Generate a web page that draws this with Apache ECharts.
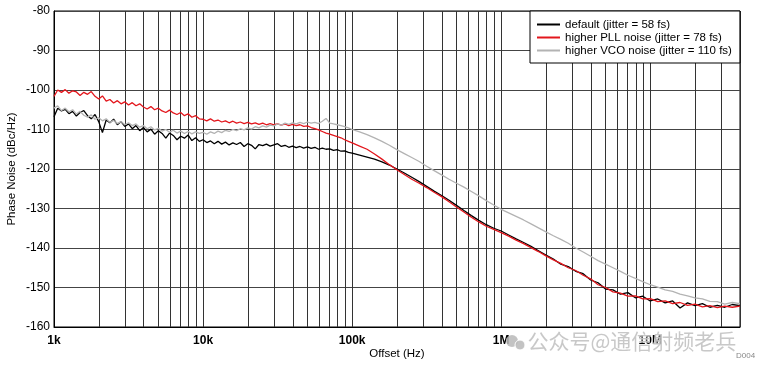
<!DOCTYPE html>
<html>
<head>
<meta charset="utf-8">
<script src="https://cdn.jsdelivr.net/npm/echarts@6/dist/echarts.min.js"></script>
<style>
html,body{margin:0;padding:0;background:#fff;}
#chart{width:758px;height:369px;}
</style>
</head>
<body>
<div id="chart"></div>
<script>
// Offset frequencies (Hz)
var freqHz = [
1000,1059,1122,1189,1259,1334,1413,1496,1585,1679,1778,1884,1995,2113,2239,2371,2512,2661,2818,2985,3162,3350,3548,3758,3981,4217,4467,4732,5012,5309,5623,5957,6310,6683,7079,7499,7943,8414,8913,9441,
10000,10590,11220,11890,12590,13340,14130,14960,15850,16790,17780,18840,19950,21130,22390,23710,25120,26610,28180,29850,31620,33500,35480,37580,39810,42170,44670,47320,50120,53090,56230,59570,63100,66830,70790,74990,79430,84140,89130,94410,
100000,112200,125900,141300,158500,177800,199500,223900,251200,281800,316200,354800,398100,446700,501200,562300,631000,707900,794300,891300,
1000000,1122000,1259000,1413000,1585000,1778000,1995000,2239000,2512000,2818000,3162000,3548000,3981000,4467000,5012000,5623000,6310000,7079000,7943000,8913000,
10000000,11220000,12590000,14130000,15850000,17780000,19950000,22390000,25120000,28180000,31620000,35480000,40000000
];

// default (jitter = 58 fs)
var defaultNoise = [
-106.8,-104.6,-105.3,-104.9,-106.0,-105.4,-106.6,-105.7,-105.2,-106.5,-107.3,-106.2,-108.0,-110.8,-107.6,-108.3,-107.4,-108.8,-108.0,-109.2,-108.6,-109.8,-109.0,-110.3,-109.5,-110.6,-109.9,-111.2,-110.3,-111.0,-112.2,-110.9,-111.5,-112.6,-111.7,-112.2,-111.4,-112.8,-112.1,-113.0,
-112.6,-113.3,-112.9,-113.6,-113.0,-113.7,-113.2,-113.9,-113.4,-113.8,-113.3,-114.3,-113.6,-114.0,-114.9,-113.8,-114.1,-113.7,-114.2,-113.9,-113.6,-114.3,-114.0,-114.5,-114.2,-114.6,-114.3,-114.7,-114.4,-114.8,-114.5,-115.0,-114.7,-115.0,-114.9,-115.3,-115.1,-115.5,-115.4,-115.8,
-116.0,-116.5,-117.0,-117.5,-118.2,-119.0,-120.0,-121.0,-122.1,-123.2,-124.4,-125.6,-126.7,-127.9,-129.2,-130.5,-131.8,-133.0,-134.1,-135.0,
-135.7,-136.7,-137.7,-138.6,-139.6,-140.7,-141.8,-142.8,-144.1,-144.7,-145.9,-146.5,-148.1,-148.8,-150.4,-150.6,-151.7,-151.3,-152.6,-152.2,
-153.4,-152.9,-153.9,-153.4,-155.2,-153.9,-154.6,-154.1,-155.0,-154.5,-155.0,-154.3,-154.6
];

// higher PLL noise (jitter = 78 fs)
var pllNoise = [
-101.6,-100.0,-100.6,-99.9,-100.8,-100.2,-100.5,-101.4,-100.6,-101.1,-100.4,-101.6,-102.3,-101.5,-102.8,-102.4,-103.3,-102.7,-103.5,-103.0,-103.8,-103.2,-104.0,-103.5,-104.3,-104.8,-104.2,-105.0,-104.6,-105.3,-105.7,-105.1,-105.8,-106.2,-105.7,-106.5,-106.0,-106.9,-106.5,-107.3,
-107.4,-107.8,-107.3,-107.9,-107.6,-108.1,-107.8,-108.3,-107.9,-108.4,-108.1,-108.5,-108.2,-108.6,-108.3,-108.7,-108.4,-108.8,-108.5,-108.8,-108.6,-108.9,-108.6,-109.0,-108.7,-109.0,-108.8,-109.2,-109.1,-109.5,-109.8,-110.1,-110.5,-110.9,-111.2,-111.5,-111.8,-112.1,-112.6,-113.0,
-113.4,-114.2,-115.0,-116.2,-117.5,-118.9,-120.2,-121.4,-122.6,-123.6,-124.7,-125.9,-127.0,-128.3,-129.6,-130.9,-132.2,-133.4,-134.5,-135.3,
-136.1,-137.0,-138.0,-138.9,-139.9,-140.9,-142.0,-143.0,-143.9,-145.0,-145.7,-146.9,-147.8,-149.3,-150.0,-151.1,-151.4,-152.2,-152.1,-152.9,
-152.8,-153.6,-153.4,-154.1,-153.8,-154.5,-154.2,-154.9,-154.6,-155.1,-154.7,-155.0,-154.7
];

// higher VCO noise (jitter = 110 fs)
var vcoNoise = [
-104.6,-104.0,-105.2,-104.6,-105.5,-105.0,-106.1,-105.4,-106.4,-106.9,-106.3,-107.4,-107.0,-107.8,-107.3,-108.2,-107.7,-108.5,-108.0,-108.8,-108.3,-109.0,-108.6,-109.4,-109.0,-109.8,-109.3,-110.1,-109.7,-110.4,-110.0,-110.7,-110.2,-110.9,-110.4,-111.0,-110.5,-111.1,-110.6,-111.0,
-110.7,-111.2,-110.6,-111.0,-110.4,-110.8,-110.2,-110.5,-110.0,-110.3,-109.8,-110.1,-109.6,-109.9,-109.3,-109.6,-109.1,-109.4,-108.9,-109.1,-108.6,-108.9,-108.4,-108.7,-108.3,-108.6,-108.2,-108.5,-108.1,-108.4,-108.2,-108.5,-107.9,-107.2,-108.4,-108.6,-108.8,-109.0,-109.3,-109.6,
-110.0,-110.6,-111.3,-112.1,-113.0,-114.0,-115.1,-116.1,-117.1,-118.1,-119.3,-120.4,-121.5,-122.6,-123.6,-124.6,-125.7,-126.8,-128.0,-129.1,
-130.2,-131.1,-132.0,-132.9,-133.9,-134.9,-135.9,-136.9,-137.8,-138.8,-140.0,-141.0,-142.1,-143.2,-144.1,-145.0,-145.9,-146.9,-147.7,-148.5,
-149.3,-149.9,-150.6,-151.0,-151.7,-152.1,-152.6,-152.9,-153.5,-153.6,-154.2,-153.8,-154.1
];

var seriesNames = ['default (jitter = 58 fs)', 'higher PLL noise (jitter = 78 fs)', 'higher VCO noise (jitter = 110 fs)'];
var majorTickHz = [1000, 10000, 100000, 1000000, 10000000];
var majorTickLabels = ['1k', '10k', '100k', '1M', '10M'];
var minorGridHz = [
2000,3000,4000,5000,6000,7000,8000,9000,
20000,30000,40000,50000,60000,70000,80000,90000,
200000,300000,400000,500000,600000,700000,800000,900000,
2000000,3000000,4000000,5000000,6000000,7000000,8000000,9000000,
20000000,30000000
];

function pairs(vals) {
  return freqHz.map(function (f, i) { return [f, vals[i]]; });
}

var FONT = '"Liberation Sans", Arial, sans-serif';
var chart = echarts.init(document.getElementById('chart'), null, {renderer: 'canvas'});

chart.setOption({
  animation: false,
  backgroundColor: '#fff',
  grid: {left: 54, right: 18, top: 11, bottom: 42, containLabel: false, outerBoundsMode: 'none',
         show: true, borderColor: '#000', borderWidth: 1, backgroundColor: 'transparent'},
  legend: {
    data: seriesNames,
    orient: 'vertical',
    left: 530,
    top: 11,
    padding: [7, 8, 6, 7],
    itemGap: 0,
    itemWidth: 23,
    itemHeight: 2,
    icon: 'rect',
    backgroundColor: '#fff',
    borderColor: '#000',
    borderWidth: 1,
    textStyle: {fontFamily: FONT, fontSize: 11.5, color: '#000', lineHeight: 13}
  },
  xAxis: {
    type: 'log',
    logBase: 10,
    min: 1000,
    max: 40000000,
    name: 'Offset (Hz)',
    nameLocation: 'middle',
    nameGap: 21,
    nameMoveOverlap: false,
    nameTextStyle: {fontFamily: FONT, fontSize: 11.5, color: '#000'},
    axisLine: {show: true, onZero: false, lineStyle: {color: '#000', width: 1}},
    axisTick: {show: false},
    axisLabel: {
      margin: 8,
      fontFamily: FONT, fontSize: 12, fontWeight: 'bold', color: '#000',
      formatter: function (v) {
        for (var i = 0; i < majorTickHz.length; i++) {
          if (Math.abs(v - majorTickHz[i]) / majorTickHz[i] < 1e-6) return majorTickLabels[i];
        }
        return '';
      }
    },
    splitLine: {show: true, lineStyle: {color: '#333', width: 1}}
  },
  yAxis: {
    type: 'value',
    min: -160,
    max: -80,
    interval: 10,
    name: 'Phase Noise (dBc/Hz)',
    nameLocation: 'middle',
    nameGap: 36,
    nameMoveOverlap: false,
    nameTextStyle: {fontFamily: FONT, fontSize: 11.5, color: '#000'},
    axisLine: {show: true, lineStyle: {color: '#000', width: 1}},
    axisTick: {show: false},
    axisLabel: {margin: 4, fontFamily: FONT, fontSize: 12, color: '#000'},
    splitLine: {show: true, lineStyle: {color: '#444', width: 1}}
  },
  series: [
    {
      name: seriesNames[0], type: 'line', data: pairs(defaultNoise), showSymbol: false,
      lineStyle: {color: '#000', width: 1.3}, itemStyle: {color: '#000'}, z: 3,
      markLine: {
        silent: true, symbol: 'none', animation: false,
        label: {show: false},
        lineStyle: {color: '#333', width: 1, type: 'solid'},
        data: minorGridHz.map(function (f) { return {xAxis: f}; }),
        z: 1
      }
    },
    {
      name: seriesNames[1], type: 'line', data: pairs(pllNoise), showSymbol: false,
      lineStyle: {color: '#e3161c', width: 1.3}, itemStyle: {color: '#e3161c'}, z: 4
    },
    {
      name: seriesNames[2], type: 'line', data: pairs(vcoNoise), showSymbol: false,
      lineStyle: {color: '#b3b3b3', width: 1.3}, itemStyle: {color: '#b3b3b3'}, z: 5
    }
  ],
  graphic: [
    {type: 'text', left: 736, top: 352, z: 100, style: {text: 'D004', fontFamily: FONT, fontSize: 8, fill: '#888'}},
    {type: 'circle', shape: {cx: 512, cy: 341, r: 6}, z: 100, style: {fill: 'rgba(185,185,185,0.85)'}},
    {type: 'circle', shape: {cx: 520, cy: 345, r: 5}, z: 100, style: {fill: 'rgba(185,185,185,0.85)', stroke: '#fff', lineWidth: 1}},
    {type: 'text', left: 527, top: 330, z: 100, style: {text: '公众号@通信射频老兵', fontFamily: '"Noto Sans CJK SC", sans-serif', fontSize: 21, fill: 'rgba(190,190,190,0.85)', stroke: 'rgba(255,255,255,0.6)', lineWidth: 1}}
  ]
});
</script>
</body>
</html>
